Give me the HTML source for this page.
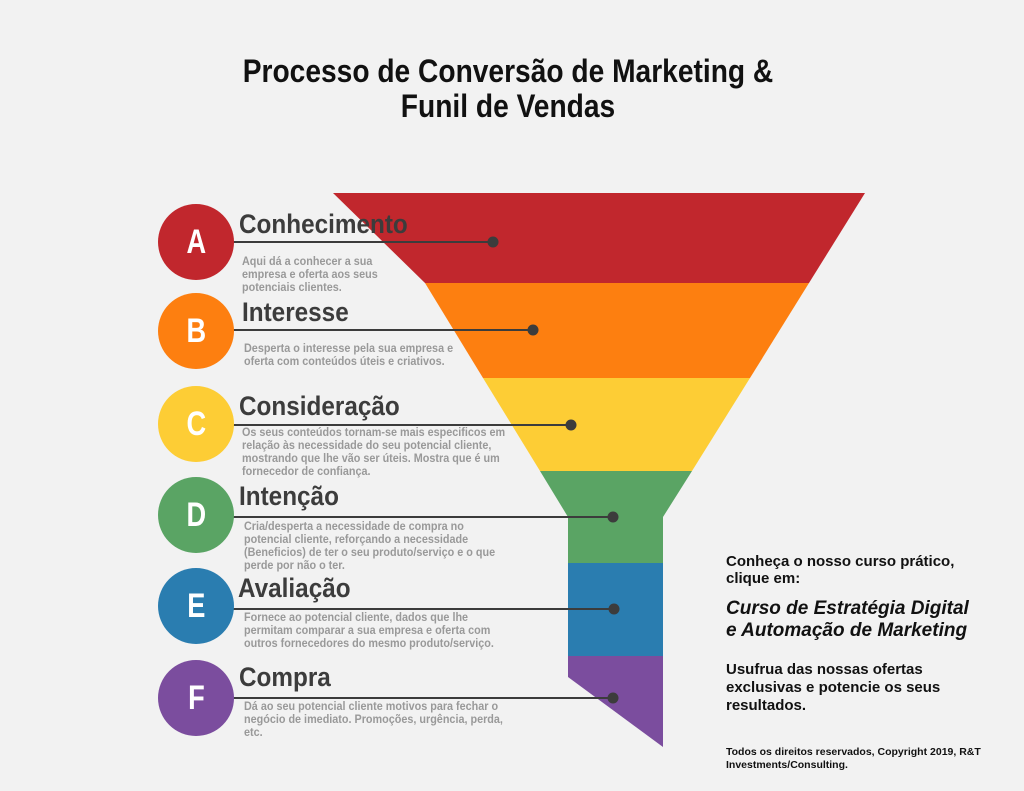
<!DOCTYPE html>
<html><head><meta charset="utf-8"><style>
body{margin:0;width:1024px;height:791px;background:#f2f2f2;overflow:hidden;position:relative;font-family:"Liberation Sans",sans-serif}
.t{position:absolute;white-space:nowrap;transform-origin:0 0}
.h{font-weight:bold;font-size:27px;color:#3c3c3c;transform:scaleX(0.9)}
.d{font-size:11.5px;color:#999;line-height:13px;font-weight:bold;transform:scaleX(0.94)}
.c{position:absolute;width:76px;height:76px;border-radius:50%;color:#fff;font-weight:bold;font-size:34px;text-align:center;line-height:76px}
.c span{display:inline-block;transform:scaleX(0.8)}
</style></head><body>
<svg width="1024" height="791" style="position:absolute;left:0;top:0">
<polygon points="333,193 865,193 809,283 425,283" fill="#c1272d"/>
<polygon points="425,283 809,283 750,378 483,378" fill="#fd7f10"/>
<polygon points="483,378 750,378 692,471 540,471" fill="#fdcd35"/>
<polygon points="540,471 692,471 663,517 663,563 568,563 568,517" fill="#5aa464"/>
<rect x="568" y="563" width="95" height="93" fill="#2a7db0"/>
<polygon points="568,656 663,656 663,747 568,677" fill="#7b4d9e"/>
<g stroke="#3c3c3c" stroke-width="2">
<line x1="228" y1="242" x2="493" y2="242"/>
<line x1="228" y1="330" x2="533" y2="330"/>
<line x1="228" y1="425" x2="571" y2="425"/>
<line x1="228" y1="517" x2="613" y2="517"/>
<line x1="228" y1="609" x2="614" y2="609"/>
<line x1="228" y1="698" x2="613" y2="698"/>
</g>
<g fill="#3c3c3c">
<circle cx="493" cy="242" r="5.5"/><circle cx="533" cy="330" r="5.5"/><circle cx="571" cy="425" r="5.5"/>
<circle cx="613" cy="517" r="5.5"/><circle cx="614" cy="609" r="5.5"/><circle cx="613" cy="698" r="5.5"/>
</g>
</svg>
<div class="t" style="left:0;width:1016px;text-align:center;top:54px;font-weight:bold;font-size:32px;line-height:35px;color:#111;transform:scaleX(0.88);transform-origin:508px 0">Processo de Conversão de Marketing &amp;<br>Funil de Vendas</div>
<div class="c" style="left:158px;top:204px;background:#c1272d"><span>A</span></div>
<div class="c" style="left:158px;top:293px;background:#fd7f10"><span>B</span></div>
<div class="c" style="left:158px;top:386px;background:#fdcd35"><span>C</span></div>
<div class="c" style="left:158px;top:477px;background:#5aa464"><span>D</span></div>
<div class="c" style="left:158px;top:568px;background:#2a7db0"><span>E</span></div>
<div class="c" style="left:158px;top:660px;background:#7b4d9e"><span>F</span></div>
<div class="t h" style="left:239px;top:209px">Conhecimento</div>
<div class="t d" style="left:242px;top:256px">Aqui dá a conhecer a sua<br>empresa e oferta aos seus<br>potenciais clientes.</div>
<div class="t h" style="left:242px;top:297px">Interesse</div>
<div class="t d" style="left:244px;top:343px">Desperta o interesse pela sua empresa e<br>oferta com conteúdos úteis e criativos.</div>
<div class="t h" style="left:239px;top:391px">Consideração</div>
<div class="t d" style="left:242px;top:427px">Os seus conteúdos tornam-se mais especificos em<br>relação às necessidade do seu potencial cliente,<br>mostrando que lhe vão ser úteis. Mostra que é um<br>fornecedor de confiança.</div>
<div class="t h" style="left:239px;top:481px">Intenção</div>
<div class="t d" style="left:244px;top:521px">Cria/desperta a necessidade de compra no<br>potencial cliente, reforçando a necessidade<br>(Beneficios) de ter o seu produto/serviço e o que<br>perde por não o ter.</div>
<div class="t h" style="left:238px;top:573px">Avaliação</div>
<div class="t d" style="left:244px;top:612px">Fornece ao potencial cliente, dados que lhe<br>permitam comparar a sua empresa e oferta com<br>outros fornecedores do mesmo produto/serviço.</div>
<div class="t h" style="left:239px;top:662px">Compra</div>
<div class="t d" style="left:244px;top:701px">Dá ao seu potencial cliente motivos para fechar o<br>negócio de imediato. Promoções, urgência, perda,<br>etc.</div>
<div class="t" style="left:726px;top:553px;font-weight:bold;font-size:15px;line-height:17px;color:#111">Conheça o nosso curso prático,<br>clique em:</div>
<div class="t" style="left:726px;top:598px;font-weight:bold;font-style:italic;font-size:19px;line-height:22px;color:#111">Curso de Estratégia Digital<br>e Automação de Marketing</div>
<div class="t" style="left:726px;top:661px;font-weight:bold;font-size:15px;line-height:18px;color:#111">Usufrua das nossas ofertas<br>exclusivas e potencie os seus<br>resultados.</div>
<div class="t" style="left:726px;top:746px;font-weight:bold;font-size:10.5px;line-height:13px;color:#111">Todos os direitos reservados, Copyright 2019, R&amp;T<br>Investments/Consulting.</div>
</body></html>
